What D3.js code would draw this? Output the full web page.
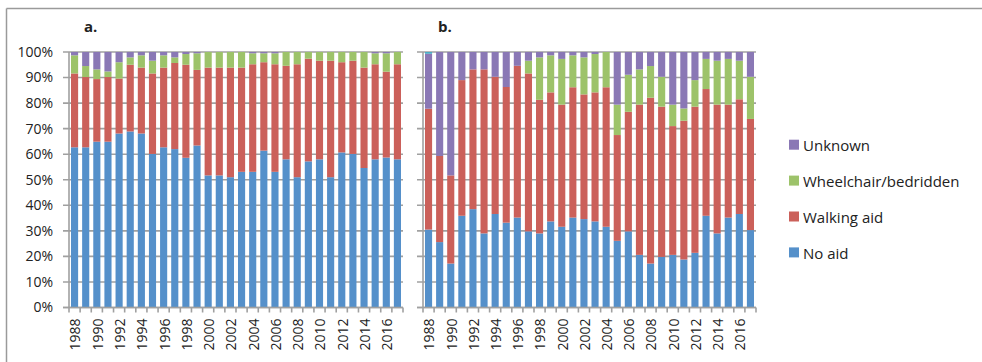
<!DOCTYPE html>
<html><head><meta charset="utf-8">
<script src="https://cdn.jsdelivr.net/npm/d3@7"></script>
<style>body{margin:0;background:#fff}svg{display:block}text{font-family:"Open Sans","Liberation Sans",Arial,sans-serif;fill:#222}</style>
</head><body>
<script>
const years = d3.range(1988, 2018).map(String);
const tickYears = years.filter((y, i) => i % 2 === 0);
const yTicks = [0,10,20,30,40,50,60,70,80,90,100];
const seriesNames = ["No aid", "Walking aid", "Wheelchair/bedridden", "Unknown", "Other"];
const legendNames = ["Unknown", "Wheelchair/bedridden", "Walking aid", "No aid"];
const colors = {"No aid":"#5590CA","Walking aid":"#CB605A","Wheelchair/bedridden":"#9DC36A","Unknown":"#8A78B5","Other":"#4BACC6"};

// Panel a (percent per year)
const aNoAid   = [62.7,62.7,64.9,64.9,68.1,68.9,68.1,60.1,62.7,62.0,58.6,63.4,51.7,51.7,51.0,53.1,53.1,61.4,53.1,58.0,51.0,57.2,58.0,51.0,60.7,60.1,54.6,58.0,58.7,58.0];
const aWalking = [28.9,27.5,24.5,25.3,21.5,26.1,25.8,31.5,31.2,33.7,36.4,29.6,42.2,42.2,42.9,40.8,42.1,34.6,42.1,36.6,44.2,40.2,38.6,45.6,35.3,36.5,39.3,37.2,33.6,37.2];
const aWheel   = [7.1,4.3,3.8,2.2,6.4,2.9,4.8,5.0,4.8,2.2,4.2,6.5,6.1,6.1,6.1,6.1,4.3,3.5,4.3,5.4,4.8,2.6,3.4,3.4,4.0,3.4,6.1,4.3,7.2,4.8];
const aUnknown = [1.3,5.5,6.8,7.6,4.0,2.1,1.3,3.4,1.3,2.1,0.8,0.5,0,0,0,0,0.5,0.5,0.5,0,0,0,0,0,0,0,0,0.5,0.5,0];
const aOther   = years.map(() => 0);

// Panel b (percent per year)
const bNoAid   = [30.5,25.6,17.2,35.9,38.5,29.0,36.6,33.2,35.2,29.8,29.0,33.7,31.6,35.2,34.6,33.7,31.6,26.1,29.8,20.6,17.2,19.8,20.6,18.8,21.4,35.9,29.0,35.2,36.6,30.3];
const bWalking = [47.3,33.7,34.5,53.1,54.7,64.2,53.7,53.1,59.4,61.8,52.3,50.5,47.8,51.0,48.8,50.5,54.6,41.4,46.8,58.8,64.9,58.8,50.4,54.3,57.2,49.6,50.4,44.2,44.9,43.5];
const bWheel   = [0,0,0,0,0,0,0,0,0,5.0,16.6,14.5,17.9,12.5,14.5,15.0,13.8,11.9,14.5,13.8,12.4,11.7,8.4,4.8,10.4,11.8,17.2,17.9,15.1,16.5];
const bUnknown = [21.5,40.7,48.3,11.0,6.8,6.8,9.7,13.7,5.4,3.4,2.1,1.3,2.7,1.3,2.1,0.8,0,20.6,8.9,6.8,5.5,9.7,20.6,22.1,11.0,2.7,3.4,2.7,3.4,9.7];
const bOther   = [0.7,0,0,0,0,0,0,0,0,0,0,0,0,0,0,0,0,0,0,0,0,0,0,0,0,0,0,0,0,0];

const W = 982, H = 362;
const svg = d3.select("body").append("svg").attr("width", W).attr("height", H);
const grid = "#A0A0A0";

// outer frame (top and left)
svg.append("line").attr("x1", 6.5).attr("x2", W).attr("y1", 8.5).attr("y2", 8.5).attr("stroke", "#9a9a9a").attr("stroke-width", 1.5);
svg.append("line").attr("x1", 6.5).attr("x2", 6.5).attr("y1", 8.5).attr("y2", H).attr("stroke", "#9a9a9a").attr("stroke-width", 1.5);

const y = d3.scaleLinear().domain([0, 100]).range([307.5, 52]);

function makeTable(arrs) {
  return years.map((yr, i) => {
    const o = {year: yr};
    seriesNames.forEach((s, k) => o[s] = arrs[k][i]);
    return o;
  });
}

function panel(x0, x1, arrs, title, showLabels) {
  const x = d3.scaleBand().domain(years).range([x0, x1]).paddingInner(0.36).paddingOuter(0.18);
  const g = svg.append("g");
  g.selectAll("line.grid").data(yTicks).join("line")
    .attr("x1", x0 - 6).attr("x2", x1).attr("y1", d => y(d)).attr("y2", d => y(d))
    .attr("stroke", grid).attr("stroke-width", 1.6);
  const data = makeTable(arrs);
  const stack = d3.stack().keys(seriesNames)(data);
  g.selectAll("g.s").data(stack).join("g").attr("fill", d => colors[d.key])
    .selectAll("rect").data(d => d).join("rect")
    .attr("x", d => x(d.data.year)).attr("width", x.bandwidth())
    .attr("y", d => y(Math.min(100, d[1]))).attr("height", d => Math.max(0, y(d[0]) - y(Math.min(100, d[1]))));
  g.append("line").attr("x1", x0).attr("x2", x0).attr("y1", y(0)).attr("y2", y(100)).attr("stroke", grid).attr("stroke-width", 1.6);
  g.append("line").attr("x1", x0 - 6).attr("x2", x1).attr("y1", y(0)).attr("y2", y(0)).attr("stroke", grid).attr("stroke-width", 1.6);
  const bounds = years.map(yr => x(yr) - x.step() * x.paddingInner() / 2).concat([x1]);
  g.selectAll("line.ct").data(bounds).join("line")
    .attr("x1", d => d).attr("x2", d => d).attr("y1", y(0)).attr("y2", y(0) + 5)
    .attr("stroke", grid).attr("stroke-width", 1.6);
  g.selectAll("text.xl").data(tickYears).join("text")
    .attr("transform", d => `translate(${x(d) + x.bandwidth() / 2 + 1},${y(0) + 11}) rotate(-90)`)
    .attr("text-anchor", "end").attr("dy", "0.35em").attr("font-size", 14).text(d => d);
  if (showLabels) {
    g.selectAll("text.yl").data(yTicks).join("text")
      .attr("x", x0 - 16).attr("y", d => y(d)).attr("dy", "0.35em")
      .attr("text-anchor", "end").attr("font-size", 14).text(d => d + "%");
  }
  svg.append("text").attr("x", x0 + 15).attr("y", 32).attr("font-size", 15).attr("font-weight", "bold").text(title);
}

panel(69, 403, [aNoAid, aWalking, aWheel, aUnknown, aOther], "a.", true);
panel(423, 756, [bNoAid, bWalking, bWheel, bUnknown, bOther], "b.", false);

const lg = svg.append("g");
legendNames.forEach((n, i) => {
  const cy = 145.7 + i * 35.9;
  lg.append("rect").attr("x", 789).attr("y", cy - 6).attr("width", 10).attr("height", 10).attr("fill", colors[n]);
  lg.append("text").attr("x", 803).attr("y", cy).attr("dy", "0.35em").attr("font-size", 15).text(n);
});
</script>
</body></html>
